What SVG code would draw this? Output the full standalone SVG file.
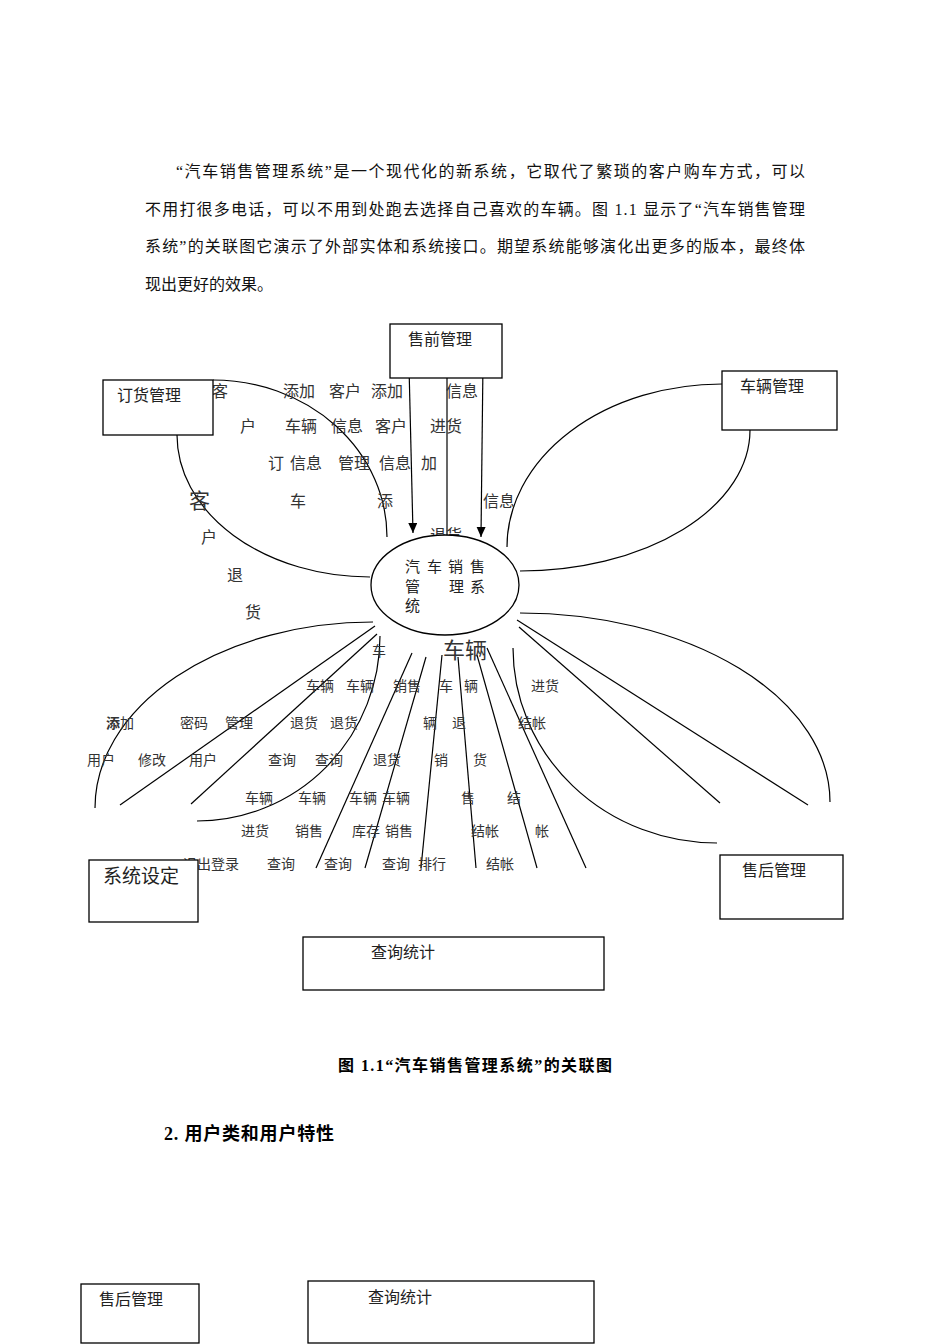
<svg xmlns="http://www.w3.org/2000/svg" width="950" height="1344" viewBox="0 0 950 1344">
<style>
.para{font-family:"Liberation Serif","Noto Sans CJK SC",serif;font-size:16px;fill:#111}
.lab{font-family:"Liberation Sans","Noto Sans CJK SC",sans-serif;font-size:16px;fill:#333}
.sm{font-family:"Liberation Sans","Noto Sans CJK SC",sans-serif;font-size:14px;fill:#333}
.nt{font-family:"Liberation Sans","Noto Sans CJK SC",sans-serif;font-size:16px;fill:#222}
.box{fill:#fff;stroke:#000;stroke-width:1.3}
.ln{fill:none;stroke:#000;stroke-width:1.2}
.bold{font-family:"Liberation Serif","Noto Sans CJK SC",serif;font-weight:bold;fill:#000}
</style>
<defs>
<marker id="arr" markerUnits="userSpaceOnUse" markerWidth="10" markerHeight="10" refX="10" refY="4.5" orient="auto">
<path d="M0,0 L10,4.5 L0,9 z" fill="#000"/>
</marker>
</defs>
<rect width="950" height="1344" fill="#fff"/>

<g id="paragraph">
<text class="para" x="176" y="177" textLength="629" lengthAdjust="spacing">“汽车销售管理系统”是一个现代化的新系统，它取代了繁琐的客户购车方式，可以</text>
<text class="para" x="145" y="215" textLength="660" lengthAdjust="spacing">不用打很多电话，可以不用到处跑去选择自己喜欢的车辆。图 1.1 显示了“汽车销售管理</text>
<text class="para" x="145" y="252" textLength="660" lengthAdjust="spacing">系统”的关联图它演示了外部实体和系统接口。期望系统能够演化出更多的版本，最终体</text>
<text class="para" x="145" y="290">现出更好的效果。</text>
</g>

<g id="connectors">
<line class="ln" x1="409" y1="366" x2="413" y2="533" marker-end="url(#arr)"/>
<line class="ln" x1="447" y1="535" x2="447" y2="365" marker-end="url(#arr)"/>
<line class="ln" x1="483" y1="362" x2="481" y2="537" marker-end="url(#arr)"/>
<path class="ln" d="M213,380 A174,157 0 0 1 387,537"/>
<path class="ln" d="M177,435 A193,142 0 0 0 370,577"/>
<path class="ln" d="M722,384 A215,163 0 0 0 507,547"/>
<path class="ln" d="M750,430 A230,141 0 0 1 520,571"/>
<path class="ln" d="M520,613 A310,189 0 0 1 830,802"/>
<path class="ln" d="M513,648 A204,195 0 0 0 717,843"/>
<line class="ln" x1="517" y1="620" x2="808" y2="805"/>
<line class="ln" x1="519" y1="627" x2="720" y2="803"/>
<path class="ln" d="M373,622 A278,186 0 0 0 95,808"/>
<line class="ln" x1="375" y1="626" x2="120" y2="805"/>
<line class="ln" x1="377" y1="634" x2="191" y2="804"/>
<path class="ln" d="M380,636 A183,185 0 0 1 197,821"/>
<line class="ln" x1="412" y1="653" x2="316" y2="868"/>
<line class="ln" x1="426" y1="657" x2="365" y2="868"/>
<line class="ln" x1="442" y1="655" x2="421" y2="868"/>
<line class="ln" x1="458" y1="657" x2="476" y2="868"/>
<line class="ln" x1="477" y1="655" x2="537" y2="868"/>
<line class="ln" x1="487" y1="648" x2="586" y2="868"/>
</g>

<g id="labels">
<text class="lab" x="212" y="397">客</text>
<text class="lab" x="283" y="397">添加</text>
<text class="lab" x="329" y="397">客户</text>
<text class="lab" x="371" y="397">添加</text>
<text class="lab" x="446" y="397">信息</text>
<text class="lab" x="240" y="432">户</text>
<text class="lab" x="285" y="432">车辆</text>
<text class="lab" x="331" y="432">信息</text>
<text class="lab" x="375" y="432">客户</text>
<text class="lab" x="430" y="432">进货</text>
<text class="lab" x="268" y="469">订</text>
<text class="lab" x="290" y="469">信息</text>
<text class="lab" x="338" y="469">管理</text>
<text class="lab" x="379" y="469">信息</text>
<text class="lab" x="421" y="469">加</text>
<text class="lab" x="189" y="508" style="font-size:21px">客</text>
<text class="lab" x="290" y="507">车</text>
<text class="lab" x="377" y="507">添</text>
<text class="lab" x="483" y="507">信息</text>
<text class="lab" x="430" y="541">退货</text>
<text class="lab" x="201" y="543">户</text>
<text class="lab" x="227" y="581">退</text>
<text class="lab" x="245" y="618">货</text>
<text class="sm" x="372" y="656">车</text>
<text class="lab" x="443" y="658" style="font-size:22px">车辆</text>

<text class="sm" x="306" y="691">车辆</text>
<text class="sm" x="346" y="691">车辆</text>
<text class="sm" x="393" y="691">销售</text>
<text class="sm" x="439" y="691">车</text>
<text class="sm" x="464" y="691">辆</text>
<text class="sm" x="531" y="691">进货</text>

<text class="sm" x="106" y="728"><tspan font-weight="bold">添</tspan>加</text>
<text class="sm" x="180" y="728">密码</text>
<text class="sm" x="225" y="728">管理</text>
<text class="sm" x="290" y="728">退货</text>
<text class="sm" x="330" y="728">退货</text>
<text class="sm" x="423" y="728">辆</text>
<text class="sm" x="452" y="728">退</text>
<text class="sm" x="518" y="728">结帐</text>

<text class="sm" x="87" y="765">用户</text>
<text class="sm" x="138" y="765">修改</text>
<text class="sm" x="189" y="765">用户</text>
<text class="sm" x="268" y="765">查询</text>
<text class="sm" x="315" y="765">查询</text>
<text class="sm" x="373" y="765">退货</text>
<text class="sm" x="434" y="765">销</text>
<text class="sm" x="473" y="765">货</text>

<text class="sm" x="245" y="803">车辆</text>
<text class="sm" x="298" y="803">车辆</text>
<text class="sm" x="349" y="803">车辆</text>
<text class="sm" x="382" y="803">车辆</text>
<text class="sm" x="461" y="803">售</text>
<text class="sm" x="507" y="803">结</text>

<text class="sm" x="241" y="836">进货</text>
<text class="sm" x="295" y="836">销售</text>
<text class="sm" x="352" y="836">库存</text>
<text class="sm" x="385" y="836">销售</text>
<text class="sm" x="471" y="836">结帐</text>
<text class="sm" x="535" y="836">帐</text>

<text class="sm" x="183" y="869">退出登录</text>
<text class="sm" x="267" y="869">查询</text>
<text class="sm" x="324" y="869">查询</text>
<text class="sm" x="382" y="869">查询</text>
<text class="sm" x="418" y="869">排行</text>
<text class="sm" x="486" y="869">结帐</text>
</g>

<g id="node-system">
<ellipse class="box" cx="445" cy="585" rx="74" ry="50"/>
<text class="nt" style="font-size:15px" x="405" y="572">汽</text>
<text class="nt" style="font-size:15px" x="427" y="572">车</text>
<text class="nt" style="font-size:15px" x="448" y="572">销</text>
<text class="nt" style="font-size:15px" x="470" y="572">售</text>
<text class="nt" style="font-size:15px" x="405" y="592">管</text>
<text class="nt" style="font-size:15px" x="449" y="592">理</text>
<text class="nt" style="font-size:15px" x="470" y="592">系</text>
<text class="nt" style="font-size:15px" x="405" y="611">统</text>
</g>

<g id="node-presale">
<rect class="box" x="390" y="324" width="112" height="54"/>
<text class="nt" x="408" y="345">售前管理</text>
</g>
<g id="node-order">
<rect class="box" x="103" y="380" width="110" height="55"/>
<text class="nt" x="117" y="401">订货管理</text>
</g>
<g id="node-vehicle">
<rect class="box" x="722" y="371" width="115" height="59"/>
<text class="nt" x="740" y="392">车辆管理</text>
</g>
<g id="node-settings">
<rect class="box" x="89" y="860" width="109" height="62"/>
<text class="nt" x="103" y="883" style="font-size:19px">系统设定</text>
</g>
<g id="node-aftersale">
<rect class="box" x="720" y="855" width="123" height="64"/>
<text class="nt" x="742" y="876">售后管理</text>
</g>
<g id="node-query">
<rect class="box" x="303" y="937" width="301" height="53"/>
<text class="nt" x="371" y="958">查询统计</text>
</g>

<g id="caption">
<text class="bold" x="338" y="1071" style="font-size:16px" textLength="274" lengthAdjust="spacing">图 1.1“汽车销售管理系统”的关联图</text>
<text class="bold" x="164" y="1140" style="font-size:18px" textLength="170" lengthAdjust="spacing">2. 用户类和用户特性</text>
</g>

<g id="node-aftersale-2">
<rect class="box" x="81" y="1284" width="118" height="59"/>
<text class="nt" x="99" y="1305">售后管理</text>
</g>
<g id="node-query-2">
<rect class="box" x="308" y="1281" width="286" height="62"/>
<text class="nt" x="368" y="1303">查询统计</text>
</g>
</svg>
